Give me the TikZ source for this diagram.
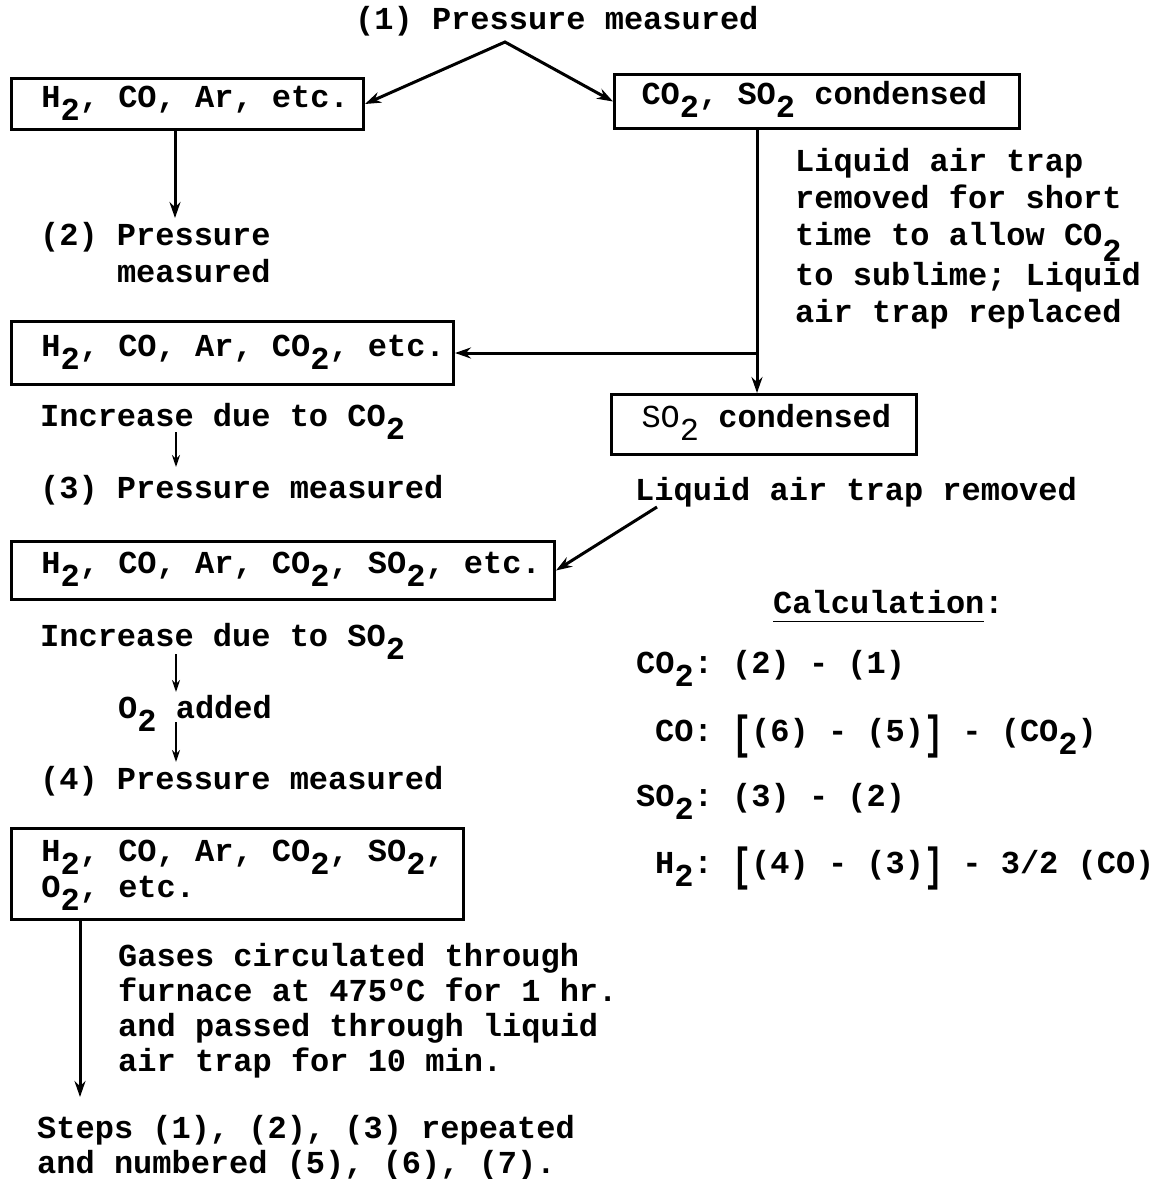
\RequirePackage{fix-cm}
\documentclass[tikz,border=0pt]{standalone}
\usepackage{fontspec}
\usepackage{graphicx}
\setmainfont{Liberation Mono}
\setmonofont{Liberation Mono}
\usetikzlibrary{arrows.meta}
\newcommand\dn[1]{\raisebox{-0.42em}{#1}}
\newcommand\dnn[1]{\raisebox{-0.52em}{#1}}
\newcommand\ul[1]{\underline{#1\vphantom{p}}}
\newcommand\lbr{\raisebox{-7pt}{\scalebox{1}[1.45]{[}}}
\newcommand\rbr{\raisebox{-7pt}{\scalebox{1}[1.45]{]}}}
\newcommand\ind{\hspace*{30pt}}
\newcommand\setspc{\frenchspacing\spaceskip=0.6em plus 0pt minus 0pt\relax\xspaceskip=0.6em\relax}
\newcommand\fA{\ttfamily\bfseries\fontsize{32}{37}\selectfont\setspc}
\newcommand\fB{\ttfamily\bfseries\fontsize{32}{31}\selectfont\setspc}
\newcommand\fC{\ttfamily\bfseries\fontsize{32}{35}\selectfont\setspc}
\setlength{\lineskiplimit}{-100pt}
\begin{document}
\begin{tikzpicture}[x=1pt,y=-1pt,
  every node/.style={inner sep=0pt, font=\fA, execute at begin node=\setspc},
  txt/.style={anchor=base west},
  para/.style={anchor=base west, text width=#1},
  gbox/.style={draw, line width=3pt, anchor=north west, inner sep=0pt, text height=16pt, text depth=10pt},
  arr/.style={line width=3pt, -{Stealth[length=16pt,width=11pt]}},
  dblarr/.style={line width=3pt, {Stealth[length=16pt,width=11pt]}-{Stealth[length=16pt,width=11pt]}},
  sarr/.style={line width=2.5pt, -{Stealth[length=12pt,width=8pt]}}
]
\useasboundingbox (0,0) rectangle (1170,1179);

% left column
\node[txt] (p1) at (355,29) {(1) Pressure measured};
\node[gbox, text width=352pt, minimum height=51pt] (b1) at (10,77) {\ind H\dn2, CO, Ar, etc.};
\node[para=300pt] (p2) at (40,245) {(2) Pressure\\\phantom{(2) }measured};
\node[gbox, text width=442pt, minimum height=63pt] (b3) at (10,320) {\ind H\dn2, CO, Ar, CO\dn2, etc.};
\node[txt] (inc1) at (40,426) {Increase due to CO\dn2};
\node[txt] (p3) at (40,498) {(3) Pressure measured};
\node[gbox, text width=543pt, minimum height=58pt] (b4) at (10,540) {\ind H\dn2, CO, Ar, CO\dn2, SO\dn2, etc.};
\node[txt] (inc2) at (40,646) {Increase due to SO\dn2};
\node[txt] (o2) at (118,718) {O\dn2 added};
\node[txt] (p4) at (40,789) {(4) Pressure measured};
\node[gbox, text width=452pt, minimum height=91pt, text depth=41pt, font=\fB] (b5) at (10,827) {\ind H\dn2, CO, Ar, CO\dn2, SO\dn2,\\\ind O\dn2, etc.};
\node[para=540pt, font=\fC] (gases) at (118,966) {Gases circulated through\\furnace at 475ºC for 1 hr.\\and passed through liquid\\air trap for 10 min.};
\node[para=580pt, font=\fC] (steps) at (37,1138) {Steps (1), (2), (3) repeated\\and numbered (5), (6), (7).};

% right column
\node[gbox, text width=405pt, minimum height=54pt] (b2) at (613,73) {\hspace*{27pt}CO\dn2, SO\dn2 condensed};
\node[para=400pt] (trap1) at (795,171) {Liquid air trap\\removed for short\\time to allow CO\dnn2\\to sublime; Liquid\\air trap replaced};
\node[gbox, text width=305pt, minimum height=60pt] (b6) at (610,393) {\ind{\mdseries SO\dn2} condensed};
\node[txt] (trap2) at (635,500) {Liquid air trap removed};

% calculation
\node[txt] (calc) at (773,613) {\ul{Calculation}:};
\node[txt] (c1) at (636,673) {CO\dn2: (2) - (1)};
\node[txt] (c2) at (655,741) {CO: \lbr(6) - (5)\rbr{} - (CO\dn2)};
\node[txt] (c3) at (636,806) {SO\dn2: (3) - (2)};
\node[txt] (c4) at (655,873) {H\dn2: \lbr(4) - (3)\rbr{} - 3/2 (CO)};

% connectors
\coordinate (apex) at (505,42);
\draw[dblarr] (b1.east) -- (apex) -- (b2.west);
\coordinate (e2) at (175,218);
\draw[arr] (b1.south -| e2) -- (e2);
\coordinate (vx) at (757,0);
\draw[arr] (b2.south -| vx) -- (b6.north -| vx);
\draw[arr] (vx |- b3.east) -- (b3.east);
\coordinate (lat) at (657,507);
\draw[arr] (lat) -- (b4.east);
\coordinate (s1a) at (176,432);
\coordinate (s1b) at (176,467);
\draw[sarr] (s1a) -- (s1b);
\coordinate (s2a) at (176,654);
\coordinate (s2b) at (176,692);
\draw[sarr] (s2a) -- (s2b);
\coordinate (s3a) at (176,722);
\coordinate (s3b) at (176,762);
\draw[sarr] (s3a) -- (s3b);
\coordinate (e5) at (80,1097);
\draw[arr] (b5.south -| e5) -- (e5);
\end{tikzpicture}
\end{document}
